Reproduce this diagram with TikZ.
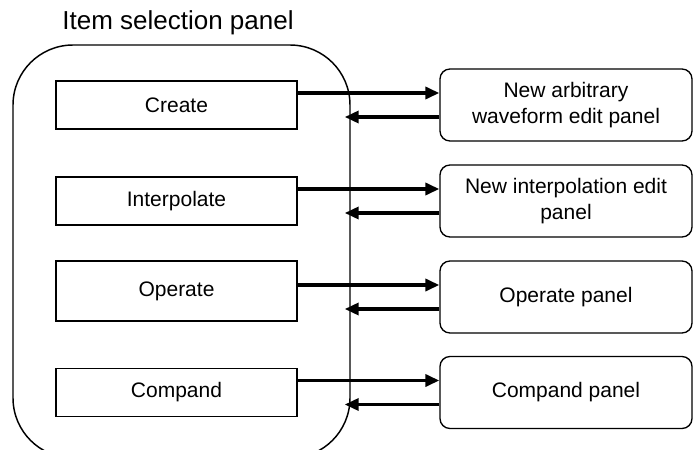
\documentclass[tikz,border=0pt]{standalone}
\usepackage{fontspec}
\setmainfont{Liberation Sans}
\usetikzlibrary{arrows.meta}

\begin{document}
\begin{tikzpicture}[x=0.75pt, y=-0.75pt,
    item/.style={draw, line width=1.1pt, minimum width=180.75pt, minimum height=36pt,
        font=\fontsize{15.75pt}{20pt}\selectfont},
    target/.style={draw, line width=1pt, rounded corners=7.5pt, minimum width=189pt,
        minimum height=54pt, align=center, font=\fontsize{15.75pt}{20pt}\selectfont},
    fwd/.style={line width=2.6pt, -{Triangle[length=10.5pt, width=9pt]}}]
    \useasboundingbox (0,0) rectangle (694,450);
    \clip (0,0) rectangle (694,450);
    \node [draw, line width=1.1pt, rounded corners=45pt, minimum width=252.75pt,
        minimum height=309.75pt] (panel) at (181.5,251.5) {};
    \node [font=\fontsize{19.5pt}{24pt}\selectfont] (title) at (178,23) {Item selection panel};
    \node [item] (create) at (176.5,105) {Create};
    \node [item] (interp) at (176.5,201) {Interpolate};
    \node [item, minimum height=45pt] (oper) at (176.5,291) {Operate};
    \node [item] (compand) at (176.5,392.5) {Compand};
    \node [target] (arb) at (566,105) {New arbitrary\\waveform edit panel};
    \node [target] (interpedit) at (566,201) {New interpolation edit\\panel};
    \node [target] (operpanel) at (566,297) {Operate panel};
    \node [target] (comppanel) at (566,392.5) {Compand panel};
    \foreach \src/\dst in {create/arb, interp/interpedit, oper/operpanel, compand/comppanel} {
        \draw [fwd] ([yshift=9pt]\dst.west -| \src.east) -- ([yshift=9pt]\dst.west);
        \draw [fwd, shorten >=-4.5pt] ([yshift=-9pt]\dst.west) -- ([yshift=-9pt]\dst.west -| panel.east);
    }
\end{tikzpicture}
\end{document}
